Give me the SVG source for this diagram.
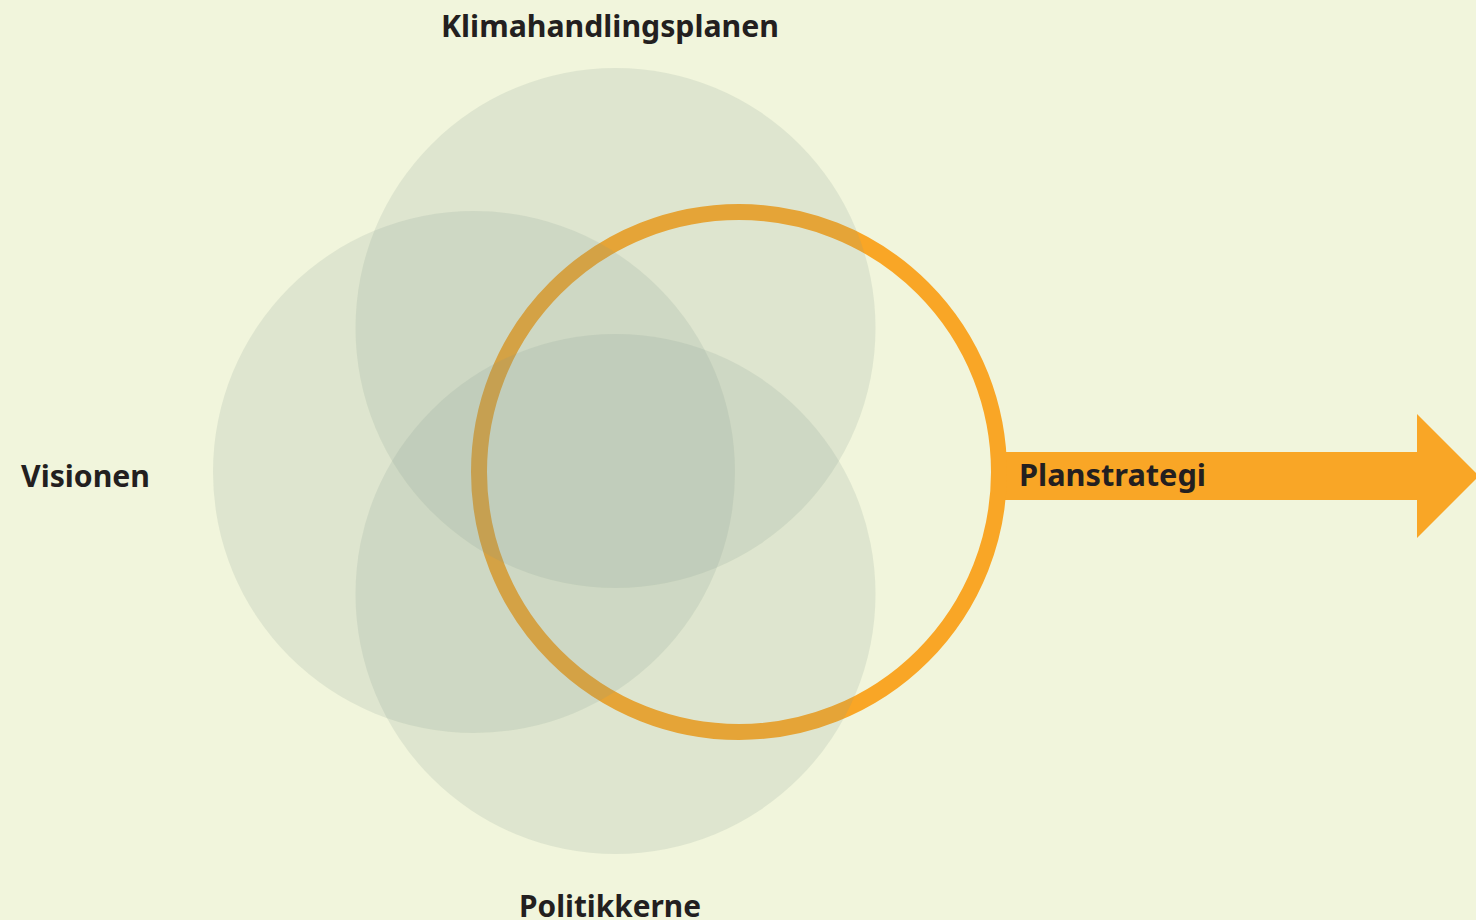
<svg xmlns="http://www.w3.org/2000/svg" width="1476" height="920" viewBox="0 0 1476 920">
<style>
.c{fill:#859B8E;fill-opacity:0.167}
.t{font-family:"Noto Sans","Open Sans",sans-serif;font-weight:700;font-size:30px;fill:#231F20}
</style>
<rect width="1476" height="920" fill="#F1F5DC"/>
<g id="connectors">
<path d="M1000,452 H1417 V414 L1479,476 L1417,538 V500 H1000 Z" fill="#F9A626"/>
</g>
<g id="ring"><circle cx="739" cy="472" r="260" fill="none" stroke="#F9A626" stroke-width="16"/></g>
<g id="klimahandlingsplanen">
<circle class="c" cx="615.5" cy="328" r="260"/>
<text class="t" x="610" y="37" text-anchor="middle" textLength="338" lengthAdjust="spacingAndGlyphs">Klimahandlingsplanen</text>
</g>
<g id="visionen">
<circle class="c" cx="474" cy="472" r="261"/>
<text class="t" x="21" y="487" textLength="129" lengthAdjust="spacingAndGlyphs">Visionen</text>
</g>
<g id="politikkerne">
<circle class="c" cx="615.5" cy="594" r="260"/>
<text class="t" x="610" y="917" text-anchor="middle" textLength="182" lengthAdjust="spacingAndGlyphs">Politikkerne</text>
</g>
<g id="planstrategi">
<text class="t" x="1019" y="486" textLength="187" lengthAdjust="spacingAndGlyphs">Planstrategi</text>
</g>
</svg>
